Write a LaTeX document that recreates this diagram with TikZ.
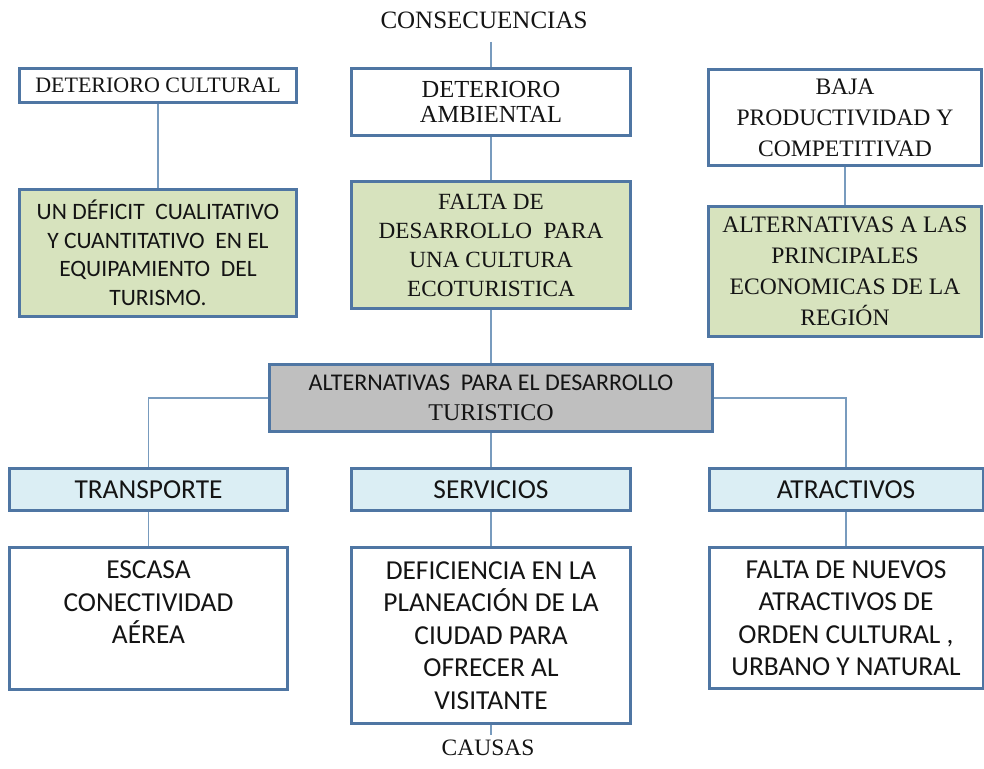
\documentclass[tikz,border=0pt]{standalone}
\usepackage{fontspec}
\setmainfont{Liberation Serif}
\newfontfamily\sansf{Carlito}
\definecolor{bordc}{RGB}{79,118,163}
\definecolor{linec}{RGB}{120,155,190}
\definecolor{greenf}{RGB}{215,227,190}
\definecolor{bluef}{RGB}{219,238,244}
\definecolor{grayf}{RGB}{191,191,191}
\definecolor{txtc}{RGB}{20,20,20}
\begin{document}
\begin{tikzpicture}[x=1pt,y=-1pt,
  box/.style={draw=bordc,line width=3pt,inner sep=0pt,align=center,text=txtc},
  conn/.style={draw=linec,line width=1.3pt},
  serifT/.style={font=\fontsize{23.6}{31}\selectfont},
  sansT/.style={font=\sansf\fontsize{27.4}{32.5}\selectfont},
  plain/.style={inner sep=0pt,align=center,text=txtc}]
\useasboundingbox[fill=white] (0,0) rectangle (984,768);

% top labels
\node[plain,font=\fontsize{25}{27}\selectfont] (cons) at (484,20) {CONSECUENCIAS};
\coordinate (consend) at (491,42);

% consequences row
\node[box,fill=white,minimum width=277pt,minimum height=34pt,font=\fontsize{22}{25}\selectfont] (cult) at (158,85.5) {DETERIORO CULTURAL};
\node[box,fill=white,minimum width=279pt,minimum height=67pt,font=\fontsize{24.5}{25}\selectfont] (amb) at (491,102) {DETERIORO\\AMBIENTAL};
\node[box,fill=white,minimum width=273pt,minimum height=96pt,serifT] (baja) at (845,117.5) {BAJA\\PRODUCTIVIDAD Y\\COMPETITIVAD};

% green row
\node[box,fill=greenf,minimum width=277pt,minimum height=127pt,font=\sansf\fontsize{23.5}{28.5}\selectfont] (def) at (158,253) {UN D\'EFICIT\ \ CUALITATIVO\\Y CUANTITATIVO\ \ EN\ EL\\EQUIPAMIENTO\ \ DEL\\TURISMO.};
\node[box,fill=greenf,minimum width=279pt,minimum height=127pt,font=\fontsize{23.2}{29}\selectfont] (falta) at (491,245) {FALTA DE\\DESARROLLO\ \ PARA\\UNA CULTURA\\ECOTURISTICA};
\node[box,fill=greenf,minimum width=273pt,minimum height=130pt,serifT] (alt) at (845,271.5) {ALTERNATIVAS A LAS\\PRINCIPALES\\ECONOMICAS DE LA\\REGI\'ON};

% centre
\node[box,fill=grayf,minimum width=443pt,minimum height=67pt,font=\fontsize{24}{30}\selectfont] (centre) at (491,398) {{\sansf ALTERNATIVAS\ \ PARA EL DESARROLLO}\\TURISTICO};

% blue row
\node[box,fill=bluef,minimum width=278pt,minimum height=42pt,sansT] (transp) at (148.5,489.5) {TRANSPORTE};
\node[box,fill=bluef,minimum width=279pt,minimum height=42pt,sansT] (serv) at (491,489.5) {SERVICIOS};
\node[box,fill=bluef,minimum width=274pt,minimum height=42pt,sansT] (atr) at (846,489.5) {ATRACTIVOS};

% causes
\node[box,fill=white,minimum width=278pt,minimum height=142pt] (escasa) at (148.5,618.5) {};
\node[plain,sansT,anchor=north] (escasaT) at (148.5,561) {ESCASA\\CONECTIVIDAD\\A\'EREA};
\node[box,fill=white,minimum width=279pt,minimum height=176pt,sansT] (defic) at (491,635.5) {DEFICIENCIA EN LA\\PLANEACI\'ON DE LA\\CIUDAD PARA\\OFRECER AL\\VISITANTE};
\node[box,fill=white,minimum width=274pt,minimum height=141pt,sansT] (nuevos) at (846,618) {FALTA DE NUEVOS\\ATRACTIVOS DE\\ORDEN CULTURAL ,\\URBANO Y NATURAL};

\coordinate (causend) at (491,735);
\node[plain,font=\fontsize{23.5}{26}\selectfont] (causas) at (488,748) {CAUSAS};

% connectors
\draw[conn] (consend) -- (amb.north);
\draw[conn] (cult.south) -- (def.north);
\draw[conn] (amb.south) -- (falta.north);
\draw[conn] (baja.south) -- (alt.north);
\draw[conn] (falta.south) -- (centre.north);
\draw[conn] (centre.west) -| (transp.north);
\draw[conn] (centre.south) -- (serv.north);
\draw[conn] (centre.east) -| (atr.north);
\draw[conn] (transp.south) -- (escasa.north);
\draw[conn] (serv.south) -- (defic.north);
\draw[conn] (atr.south) -- (nuevos.north);
\draw[conn] (defic.south) -- (causend);
\end{tikzpicture}
\end{document}
